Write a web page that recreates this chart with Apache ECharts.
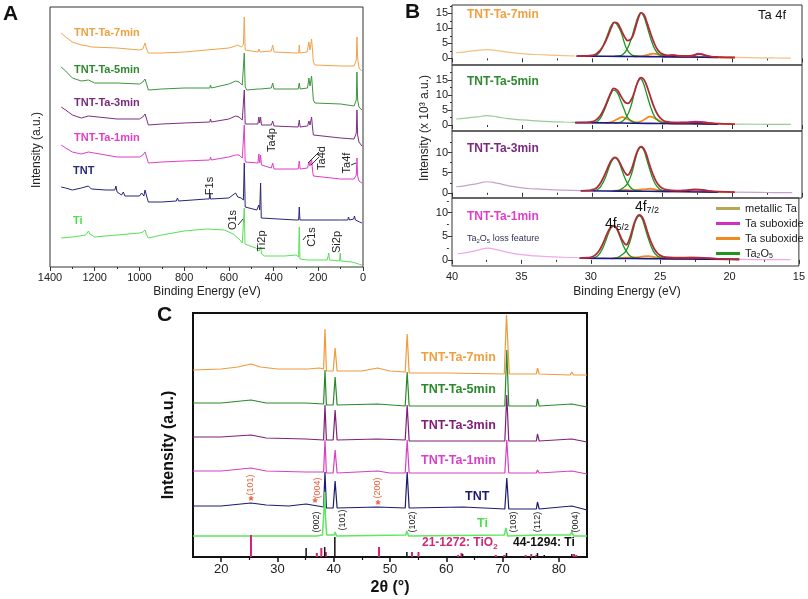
<!DOCTYPE html>
<html><head><meta charset="utf-8">
<script src="https://cdn.jsdelivr.net/npm/echarts@6/dist/echarts.min.js"></script>
<style>html,body{margin:0;padding:0;background:#fff}#c{width:808px;height:599px}</style>
</head><body><div id="c"></div><script>
// ---------- Panel A : XPS survey (Binding energy eV, intensity a.u.) ----------
const surveyTa7 = [[1350,234],[1330,230],[1300,225],[1260,222],[1230,221],[1225,223],[1215,220],[1100,219],[1000,217],[985,218],[975,224],[968,218],[960,214],[900,214],[800,215],[700,217],[600,219],[570,221],[560,222],[545,220],[535,222],[531,250],[527,217],[520,215],[470,215],[465,218],[460,215],[410,216],[404,222],[398,215],[300,214],[288,214],[285,222],[282,214],[250,215],[242,225],[237,217],[230,228],[226,217],[222,205],[215,202],[100,201],[40,201],[30,207],[27,230],[24,209],[18,199],[10,197],[5,196]];
const surveyTa5 = [[1350,200],[1330,196],[1300,189],[1260,186],[1228,187],[1222,185],[1200,184],[1100,184],[1000,183],[985,185],[975,188],[968,183],[960,177],[900,178],[800,179],[685,179],[682,182],[678,179],[600,183],[570,186],[555,185],[540,182],[531,214],[527,180],[520,177],[470,178],[465,179],[460,178],[410,179],[404,184],[398,178],[290,178],[285,184],[281,178],[248,179],[242,189],[237,181],[230,191],[226,179],[222,167],[215,164],[100,163],[40,161],[30,167],[27,195],[24,167],[18,160],[10,158],[5,157]];
const surveyTa3 = [[1350,160],[1330,157],[1300,152],[1260,149],[1228,151],[1222,149],[1100,148],[1000,148],[985,150],[975,153],[968,148],[960,142],[900,143],[800,144],[685,145],[682,148],[678,145],[600,148],[570,151],[555,150],[540,147],[531,177],[527,143],[520,142],[470,143],[466,150],[462,144],[458,150],[454,142],[410,142],[404,146],[398,141],[290,140],[285,147],[281,140],[248,141],[242,146],[237,142],[230,150],[226,140],[222,132],[215,130],[100,129],[40,128],[30,134],[27,157],[24,132],[18,125],[10,123],[5,121]];
const surveyTa1 = [[1350,122],[1330,119],[1300,115],[1260,113],[1228,115],[1222,113],[1100,110],[1000,110],[985,112],[975,115],[968,110],[960,104],[900,105],[800,106],[685,107],[682,110],[678,107],[600,110],[570,112],[555,112],[540,109],[531,142],[527,105],[520,104],[470,104],[466,113],[462,104],[458,112],[454,102],[410,99],[404,104],[398,98],[290,98],[285,106],[281,98],[248,99],[242,105],[237,101],[230,108],[226,97],[222,91],[215,89],[100,88],[40,88],[30,92],[27,109],[24,91],[18,86],[10,85],[5,84]];
const surveyTNT = [[1350,80],[1330,79],[1300,77],[1260,79],[1228,81],[1215,78],[1150,77],[1110,77],[1105,81],[1100,75],[1080,72],[1072,75],[1065,71],[1000,71],[990,74],[980,71],[975,77],[968,71],[960,65],[900,65],[835,66],[830,69],[825,66],[700,68],[688,68],[685,74],[682,68],[600,69],[570,74],[560,70],[545,69],[535,67],[531,104],[527,60],[520,59],[475,57],[466,62],[462,57],[458,84],[455,49],[450,47],[300,47],[288,47],[285,60],[282,47],[100,47],[68,47],[65,50],[60,47],[42,48],[38,51],[34,47],[15,45],[5,44]];
const surveyTi = [[1350,29],[1300,30],[1240,32],[1228,36],[1222,33],[1200,30],[1100,32],[1000,34],[985,35],[975,37],[968,32],[960,29],[900,32],[800,36],[700,38],[620,37],[580,33],[550,27],[540,24],[533,23],[531,59],[528,23],[520,23],[480,19],[465,16],[460,17],[457,20],[454,13],[440,11],[350,11],[300,12],[288,10],[285,40],[282,8],[250,7],[160,7],[153,14],[150,7],[105,6],[102,14],[99,6],[50,5],[20,3],[5,2]];

// ---------- Panel B : Ta 4f high resolution (x10^3 a.u.) ----------
const raw7 = [[39.7,1.9],[39,2.2],[38.3,2.6],[37.5,2.9],[36.8,2.6],[36,2.1],[35,1.6],[34,1.3],[33,1.1],[32,0.95],[31.2,0.8],[25,'-'],[19.8,0.35],[18,0.2],[17,0.15],[15.8,0.1]];
const bg7 = [[31.1,0.75],[29,0.7],[27,0.62],[25,0.55],[23,0.45],[21,0.35]];
const env7 = [[31.1,0.75],[30.5,0.8],[30,1.0],[29.7,1.5],[29.4,2.8],[29.1,5.0],[28.8,8.2],[28.6,10.5],[28.4,12.0],[28.2,11.8],[28.0,10.3],[27.8,8.3],[27.6,6.6],[27.45,5.9],[27.2,6.5],[27.0,8.6],[26.8,11.8],[26.6,14.6],[26.5,15.2],[26.3,14.6],[26.1,12.3],[25.9,9.5],[25.6,5.6],[25.3,2.8],[25.0,1.5],[24.6,1.0],[24.2,1.1],[23.7,0.8],[23,0.8],[22.6,1.2],[22.3,1.4],[21.9,1.0],[21.3,0.5],[20.5,0.35],[19.8,0.3]];
const g7a = [[30.0,0.7],[29.7,1.0],[29.4,2.4],[29.1,5.4],[28.8,9.0],[28.6,11.2],[28.4,12.0],[28.2,11.2],[27.9,8.4],[27.7,5.4],[27.5,3.0],[27.2,1.3],[26.9,0.8],[26.6,0.65]];
const g7b = [[28.4,0.65],[28.1,0.8],[27.8,1.3],[27.5,3.0],[27.2,6.5],[26.9,11.2],[26.7,14.0],[26.5,15.2],[26.3,14.0],[26.1,11.2],[25.8,6.5],[25.5,3.0],[25.2,1.3],[24.9,0.8],[24.6,0.6]];
const o7 = [[27,0.62],[26.5,0.75],[26.0,1.2],[25.6,1.6],[25.2,1.2],[24.7,0.7],[24.2,0.5],[22,0.4],[19.8,0.3]];
const m7 = [[25,0.55],[24.5,0.8],[24.2,1.1],[23.8,0.8],[23.3,0.6],[22.8,0.9],[22.4,1.6],[22.0,1.2],[21.6,0.6],[21.0,0.4]];

const raw5 = [[39.7,2.0],[39,2.3],[38.2,2.7],[37.5,3.1],[36.8,2.7],[36,2.1],[35,1.7],[34,1.4],[33,1.15],[32,1.0],[31.2,0.9],[25,'-'],[19.8,0.3],[18,0.25],[17,0.2],[15.8,0.2]];
const bg5 = [[31.2,0.8],[29,0.7],[27,0.6],[25,0.5],[23,0.4],[21,0.3]];
const env5 = [[31.2,0.8],[30.5,0.85],[30,1.1],[29.7,1.7],[29.4,3.2],[29.1,5.8],[28.8,9.2],[28.6,11.3],[28.45,12.2],[28.2,11.6],[28.0,10.2],[27.8,8.6],[27.6,7.4],[27.45,7.2],[27.2,8.4],[27.0,10.6],[26.8,13.5],[26.6,15.5],[26.5,15.8],[26.3,15.2],[26.1,13.2],[25.9,10.5],[25.6,6.4],[25.3,3.4],[25.0,1.8],[24.6,1.0],[24.0,0.8],[23.3,0.8],[22.6,1.0],[22.2,0.9],[21.5,0.6],[20.5,0.35],[19.8,0.3]];
const g5a = [[30.0,0.75],[29.7,1.0],[29.4,2.3],[29.1,5.2],[28.8,8.7],[28.6,10.8],[28.45,11.6],[28.2,10.8],[27.95,8.1],[27.7,5.2],[27.5,2.9],[27.2,1.3],[26.9,0.8],[26.6,0.65]];
const g5b = [[28.4,0.65],[28.1,0.8],[27.8,1.3],[27.5,3.0],[27.2,6.6],[26.95,11.2],[26.75,14.2],[26.55,15.5],[26.35,14.2],[26.15,11.2],[25.85,6.6],[25.55,3.0],[25.25,1.3],[24.95,0.8],[24.6,0.55]];
const o5 = [[29.0,0.7],[28.6,1.0],[28.2,1.9],[27.85,2.6],[27.5,2.0],[27.1,1.2],[26.8,0.9],[26.5,1.2],[26.2,2.0],[25.85,2.8],[25.5,2.2],[25.1,1.2],[24.7,0.7],[24.2,0.5],[22,0.4],[19.8,0.3]];
const m5 = [[25,0.5],[24.4,0.7],[23.8,0.8],[23.2,0.9],[22.6,1.1],[22.2,1.0],[21.7,0.7],[21.2,0.4]];

const raw3 = [[39.7,1.5],[39,1.8],[38.2,2.3],[37.5,2.75],[36.8,2.4],[36,1.8],[35,1.2],[34,0.95],[33,0.8],[32,0.65],[30.8,0.55],[25,'-'],[19.8,0.15],[18,0.1],[17,0.05],[15.7,0.05]];
const bg3 = [[30.8,0.5],[29,0.45],[27,0.4],[25,0.35],[23,0.25],[21,0.15]];
const env3 = [[30.8,0.5],[30.2,0.6],[29.9,0.85],[29.6,1.5],[29.3,3.0],[29.0,5.2],[28.7,7.6],[28.5,8.6],[28.35,8.85],[28.15,8.3],[27.95,7.0],[27.75,5.6],[27.55,4.6],[27.45,4.4],[27.25,5.3],[27.05,7.2],[26.85,9.5],[26.65,11.1],[26.5,11.5],[26.3,11.0],[26.1,9.4],[25.9,7.1],[25.6,4.2],[25.3,2.2],[25.0,1.2],[24.6,0.7],[24.0,0.55],[23.3,0.6],[22.7,0.85],[22.3,0.8],[21.7,0.5],[21.0,0.3],[19.8,0.15]];
const g3a = [[29.9,0.5],[29.6,0.8],[29.3,2.0],[29.0,4.2],[28.7,7.1],[28.5,8.4],[28.35,8.7],[28.15,8.1],[27.9,6.0],[27.65,3.7],[27.45,2.3],[27.15,1.0],[26.8,0.55],[26.5,0.45]];
const g3b = [[28.3,0.5],[28.0,0.75],[27.75,1.3],[27.45,2.4],[27.15,5.0],[26.9,8.4],[26.7,10.6],[26.5,11.3],[26.3,10.6],[26.1,8.4],[25.8,5.0],[25.5,2.3],[25.2,1.0],[24.9,0.55],[24.5,0.4]];
const o3 = [[28.5,0.45],[28.0,0.6],[27.6,0.7],[27.2,0.6],[26.8,0.7],[26.3,0.85],[25.85,1.0],[25.4,0.75],[25.0,0.5],[24.5,0.35],[22,0.25],[19.8,0.15]];
const m3 = [[25,0.35],[24.3,0.45],[23.6,0.5],[23.1,0.6],[22.7,0.75],[22.3,0.7],[21.8,0.45],[21.2,0.25]];

const raw1 = [[39.6,1.3],[39,1.55],[38.2,2.0],[37.4,2.5],[36.8,2.15],[36,1.6],[35,1.1],[34,0.85],[33,0.7],[32,0.55],[30.8,0.45],[25,'-'],[19.3,0.1],[18,0.07],[17,0.05],[15.6,0.05]];
const bg1 = [[30.8,0.35],[29,0.32],[27,0.28],[25,0.24],[23,0.18],[21,0.12],[19.3,0.1]];
const env1 = [[30.8,0.35],[30.2,0.45],[29.9,0.65],[29.6,1.2],[29.3,2.4],[29.0,4.3],[28.7,6.3],[28.5,7.1],[28.35,7.25],[28.15,6.8],[27.95,5.6],[27.75,4.3],[27.55,3.4],[27.45,3.2],[27.25,4.1],[27.05,5.9],[26.85,7.9],[26.65,9.2],[26.5,9.5],[26.3,9.1],[26.1,7.7],[25.9,5.8],[25.6,3.4],[25.3,1.8],[25.0,0.95],[24.6,0.55],[24.0,0.45],[23.0,0.45],[22.3,0.45],[21.5,0.35],[20.5,0.2],[19.3,0.1]];
const g1a = [[29.9,0.35],[29.6,0.6],[29.3,1.6],[29.0,3.4],[28.7,5.8],[28.5,6.9],[28.35,7.1],[28.15,6.6],[27.9,4.9],[27.65,3.0],[27.45,1.9],[27.15,0.8],[26.8,0.4],[26.5,0.3]];
const g1b = [[28.3,0.35],[28.0,0.6],[27.75,1.1],[27.45,1.95],[27.15,4.1],[26.9,6.9],[26.7,8.7],[26.5,9.3],[26.3,8.7],[26.1,6.9],[25.8,4.1],[25.5,1.9],[25.2,0.8],[24.9,0.4],[24.5,0.3]];
const o1 = [[28.5,0.3],[28.0,0.4],[27.5,0.45],[27.0,0.5],[26.5,0.6],[26.2,0.75],[25.85,0.8],[25.4,0.6],[25.0,0.4],[24.5,0.25],[22,0.15],[19.3,0.1]];
const m1 = [[25,0.25],[24.2,0.35],[23.5,0.4],[22.8,0.45],[22.2,0.42],[21.5,0.3],[20.8,0.15]];
const metallicTa = [];

// ---------- Panel C : XRD (2theta deg, intensity a.u.) ----------
const xrdTa7 = [[15,187],[20,188],[23,190],[25.3,193],[27,190],[30,188],[35,188],[35.2,190],[35.4,188],[37.5,189],[38.2,188],[38.45,228],[38.7,186],[39.9,186],[40.25,209],[40.6,186],[45,186],[47.8,189],[50,186],[52.7,185],[53.05,223],[53.4,184],[60,184],[70.3,183],[70.7,242],[70.95,212],[71.2,183],[76,183],[76.2,189],[76.5,183],[82,182],[82.3,185],[82.6,182],[85,182]];
const xrdTa5 = [[15,154],[20,154],[25.3,157],[28,154],[35,154],[38.2,153],[38.45,187],[38.7,152],[39.9,152],[40.25,180],[40.6,152],[47.8,153],[52.7,151],[53.05,185],[53.4,151],[70.4,151],[70.75,207],[71.1,151],[76,151],[76.2,158],[76.5,151],[82.3,153],[85,150]];
const xrdTa3 = [[15,120],[20,120],[25.3,122],[28,119],[35,118],[38.2,117],[38.45,152],[38.7,117],[39.9,117],[40.25,147],[40.6,117],[47.8,118],[52.7,117],[53.05,152],[53.4,116],[70.4,116],[70.75,162],[71.1,116],[76,116],[76.2,123],[76.5,116],[82.3,118],[85,115]];
const xrdTa1 = [[15,86],[20,86],[25.3,89],[28,86],[35,85],[38.2,85],[38.45,117],[38.7,84],[39.9,84],[40.25,107],[40.6,84],[47.8,86],[50,84],[52.7,84],[53.05,117],[53.4,84],[70.4,84],[70.75,117],[71.1,84],[76,84],[76.2,87],[76.5,84],[82.3,86],[85,83]];
const xrdTNT = [[15,51],[20,51],[25.3,54],[28,52],[32,51],[35.1,53],[35.3,51],[38.2,50],[38.45,85],[38.7,49],[39.9,49],[40.25,76],[40.6,49],[47.8,50],[52.7,49],[53.05,85],[53.4,49],[63,50],[70.4,48],[70.75,79],[71.1,48],[76,48],[76.2,55],[76.5,48],[82.3,51],[85,47]];
const xrdTi = [[15,21],[30,21],[37,21],[38.0,22],[38.25,45],[38.4,65],[38.55,40],[38.75,22],[40.1,22],[40.25,25],[40.5,21],[52.8,22],[53.0,26],[53.3,21],[70.3,22],[70.6,29],[70.9,21],[76.2,22],[82.1,22],[82.3,26],[82.6,21],[85,21]];
const tio2Pos = [25.3,37.0,37.8,38.6,48.05,53.9,55.06,62.1,62.7,68.8,70.3,74.1,75.1,76.0,82.7,83.1];
const tio2Int = [22,4,9,5,10,5,5,2,4,2,2,2,3,2,3,2];
const tiPos = [35.1,38.4,40.2,53.0,62.9,70.7,76.2,77.4,82.3];
const tiInt = [9,10,20,5,3,4,4,2,3];

const xpsTicks = [0,200,400,600,800,1000,1200,1400];
const xrdTicks = [20,30,40,50,60,70,80];
const xrdMinorTicks = [25,35,45,55,65,75];

const FONT = 'Liberation Sans, Arial, sans-serif';
const chart = echarts.init(document.getElementById('c'));

function ln(data, xi, yi, color, w, smooth, name) {
  return {type:'line', name:name, data:data, xAxisIndex:xi, yAxisIndex:yi, showSymbol:false, symbol:'none',
    smooth: smooth || false, lineStyle:{color:color, width:w}, itemStyle:{color:color}, silent:true, animation:false};
}
function sticks(pos, h) {
  const d = [];
  pos.forEach((p, i) => { d.push([p, 0]); d.push([p, h[i]]); d.push([p, '-']); });
  return d;
}
const plain = v => String(v);

const grids = [
  {left:50, top:7, width:313, height:260},
  {left:452, top:5, width:350, height:60},
  {left:452, top:65, width:350, height:66},
  {left:452, top:131, width:350, height:67},
  {left:452, top:198, width:350, height:68},
  {left:193, top:313, width:394, height:244}
].map((g, i) => Object.assign({show:true, borderColor: i === 5 ? '#111' : '#333', borderWidth: i === 5 ? 2 : 1, backgroundColor:'transparent'}, g));

const axisLbl = {color:'#222', fontFamily:FONT, fontSize:11, formatter:plain};
const xAxes = [
  {gridIndex:0, type:'value', position:'bottom', min:0, max:1400, interval:200, inverse:true, axisLine:{show:false},
   axisTick:{show:true, length:4, customValues:xpsTicks, lineStyle:{color:'#333'}}, minorTick:{show:true, splitNumber:2, length:2, lineStyle:{color:'#333'}},
   axisLabel:Object.assign({margin:5, customValues:xpsTicks}, axisLbl), splitLine:{show:false}}
];
for (let k = 1; k <= 4; k++) {
  xAxes.push({gridIndex:k, type:'value', position:'bottom', min:15, max:40, interval:5, inverse:true, axisLine:{show:false},
    axisTick:{show:true, length:4, lineStyle:{color:'#333'}}, minorTick:{show:true, splitNumber:2, length:2, lineStyle:{color:'#333'}},
    axisLabel:Object.assign({show:k === 4, margin:5}, axisLbl), splitLine:{show:false}});
}
xAxes.push({gridIndex:5, type:'value', position:'bottom', min:15, max:85, axisLine:{show:false},
  axisTick:{show:true, length:5, customValues:xrdTicks, lineStyle:{color:'#111', width:1.5}},
  axisLabel:{customValues:xrdTicks, color:'#222', fontFamily:FONT, fontSize:13, margin:6, formatter:plain}, splitLine:{show:false}});
// minor-tick axis: the second x axis of a grid sits on top, so it is moved down to the bottom edge
xAxes.push({gridIndex:5, type:'value', position:'top', offset:-244, min:15, max:85, axisLine:{show:false},
  axisTick:{show:true, inside:true, length:3, customValues:xrdMinorTicks, lineStyle:{color:'#111', width:1.2}},
  axisLabel:{show:false}, splitLine:{show:false}});

const bRanges = [[-2.2,17.8,[0,5,10,15],[2.5,7.5,12.5,17.5]],[-2,20,[0,5,10,15],[2.5,7.5,12.5,17.5]],[-1.3,15.4,[0,5,10],[2.5,7.5,12.5]],[-1.3,13.1,[0,5,10],[2.5,7.5,12.5]]];
const yAxes = [{gridIndex:0, type:'value', min:0, max:260, show:false}];
bRanges.forEach((r, i) => {
  yAxes.push({gridIndex:i+1, type:'value', position:'left', min:r[0], max:r[1], axisLine:{show:false},
    axisTick:{show:true, length:4, customValues:r[2], lineStyle:{color:'#333'}},
    axisLabel:Object.assign({customValues:r[2], margin:4}, axisLbl), splitLine:{show:false}});
});
bRanges.forEach((r, i) => {
  yAxes.push({gridIndex:i+1, type:'value', position:'right', offset:-350, min:r[0], max:r[1], axisLine:{show:false},
    axisTick:{show:true, inside:true, length:2, customValues:r[3], lineStyle:{color:'#333'}},
    axisLabel:{show:false}, splitLine:{show:false}});
});
yAxes.push({gridIndex:5, type:'value', min:0, max:244, show:false});

const series = [
  ln(surveyTa7,0,0,'#f2a24a',1), ln(surveyTa5,0,0,'#3c963c',1), ln(surveyTa3,0,0,'#7d2d82',1),
  ln(surveyTa1,0,0,'#e03cc8',1), ln(surveyTNT,0,0,'#262678',1), ln(surveyTi,0,0,'#58e058',1)
];
const bSets = [
  [raw7,bg7,env7,g7a,g7b,o7,m7,'#f5c080'],
  [raw5,bg5,env5,g5a,g5b,o5,m5,'#98cc98'],
  [raw3,bg3,env3,g3a,g3b,o3,m3,'#c8a0cc'],
  [raw1,bg1,env1,g1a,g1b,o1,m1,'#f0a8e8']
];
bSets.forEach((s, i) => {
  const k = i + 1;
  series.push(ln(s[0], k, k, s[7], 1.2, true));
  series.push(ln(s[5], k, k, '#f08a20', 1.8, true, 'Ta suboxide\u00a0'));
  series.push(ln(s[6], k, k, '#d030c0', 1.8, true, 'Ta suboxide'));
  series.push(ln(s[3], k, k, '#1e961e', 1.3, true, 'Ta2O5'));
  series.push(ln(s[4], k, k, '#1e961e', 1.3, true, 'Ta2O5'));
  series.push(ln(s[1], k, k, '#1a1a80', 1.6, true));
  series.push(ln(s[2], k, k, '#b02a3a', 1.8, true));
});
series.push(ln(metallicTa, 4, 4, '#b4a858', 1.5, false, 'metallic Ta'));
series.push(ln(xrdTa7,5,9,'#f09a3a',1.2), ln(xrdTa5,5,9,'#2a8a2a',1.2), ln(xrdTa3,5,9,'#80207a',1.2),
  ln(xrdTa1,5,9,'#d840c0',1.2), ln(xrdTNT,5,9,'#1c1c6e',1.2), ln(xrdTi,5,9,'#5ee85e',1.5));
series.push(ln(sticks(tio2Pos, tio2Int),5,9,'#d4236e',2));
series.push(ln(sticks(tiPos, tiInt),5,9,'#111',1.5));

function T(x, y, text, o) {
  o = o || {};
  return {type:'text', x:x, y:y, rotation:o.rot || 0, z:100, silent:true,
    style:{text:text, fill:o.c || '#222', fontFamily:FONT, fontSize:o.s || 11, fontWeight:o.b ? 'bold' : 'normal',
      align:o.a || 'left', verticalAlign:'middle', textAlign:o.a || 'left', textVerticalAlign:'middle', rich:o.rich}};
}
function L(x1, y1, x2, y2, c) {
  return {type:'line', z:100, silent:true, shape:{x1:x1, y1:y1, x2:x2, y2:y2}, style:{stroke:c || '#333', lineWidth:1}};
}
const R = Math.PI / 2;
const subRich = (fs, off) => ({sub:{fontSize:fs, padding:[off,0,0,0]}});
const graphic = [
  // Panel A
  T(3,14,'A',{s:21,b:true,c:'#111'}),
  T(74,33,'TNT-Ta-7min',{b:true,c:'#f0a040'}), T(74,70,'TNT-Ta-5min',{b:true,c:'#2f8a2f'}),
  T(74,103,'TNT-Ta-3min',{b:true,c:'#7a2a80'}), T(74,138,'TNT-Ta-1min',{b:true,c:'#e040c8'}),
  T(73,171,'TNT',{b:true,c:'#2a2a7a'}), T(73,221,'Ti',{b:true,c:'#50dd50'}),
  T(210,186,'F1s',{rot:R,a:'center'}), T(233,220,'O1s',{rot:R,a:'center'}), T(262,241,'Ti2p',{rot:R,a:'center'}),
  T(312,237,'C1s',{rot:R,a:'center'}), T(337,242,'Si2p',{rot:R,a:'center'}), T(272,140,'Ta4p',{rot:R,a:'center'}),
  T(322,158,'Ta4d',{rot:R,a:'center'}), T(347,163,'Ta4f',{rot:R,a:'center'}),
  L(238,225,243,219), L(303,240,306,236), L(308,163,319,152), L(311,165,319,157), L(351,165,356,163),
  T(207,292,'Binding Energy (eV)',{a:'center',s:12}),
  T(37,150,'Intensity (a.u.)',{rot:R,a:'center',s:12}),
  // Panel B
  T(405,12,'B',{s:21,b:true,c:'#111'}),
  T(467,15,'TNT-Ta-7min',{b:true,s:12,c:'#f0a040'}), T(758,15,'Ta 4f',{s:13,c:'#111'}),
  T(467,82,'TNT-Ta-5min',{b:true,s:12,c:'#2f8a2f'}), T(467,149,'TNT-Ta-3min',{b:true,s:12,c:'#7a2a80'}),
  T(467,217,'TNT-Ta-1min',{b:true,s:12,c:'#e040c8'}),
  T(467,239,'Ta{sub|2}O{sub|5} loss feature',{s:9,c:'#333355',rich:subRich(6,5)}),
  T(617,224,'4f{sub|5/2}',{s:14,a:'center',c:'#111',rich:subRich(9,8)}),
  T(647,207,'4f{sub|7/2}',{s:14,a:'center',c:'#111',rich:subRich(9,8)}),
  T(425,128,'Intensity (x 10\u00b3 a.u.)',{rot:R,a:'center',s:12}),
  T(627,292,'Binding Energy (eV)',{a:'center',s:12}),
  // Panel C
  T(157,315,'C',{s:21,b:true,c:'#111'}),
  T(421,358,'TNT-Ta-7min',{b:true,s:12.5,c:'#f0a040'}), T(421,390,'TNT-Ta-5min',{b:true,s:12.5,c:'#2a8a2a'}),
  T(421,426,'TNT-Ta-3min',{b:true,s:12.5,c:'#80207a'}), T(421,461,'TNT-Ta-1min',{b:true,s:12.5,c:'#d840c8'}),
  T(465,497,'TNT',{b:true,s:12.5,c:'#1c1c6e'}), T(477,524,'Ti',{b:true,s:12.5,c:'#50dd50'}),
  T(422,543,'21-1272: TiO{sub|2}',{b:true,s:12,c:'#cc2a7a',rich:{sub:{fontSize:8,fontWeight:'bold',padding:[7,0,0,0]}}}),
  T(513,543,'44-1294: Ti',{b:true,s:12,c:'#111'}),
  T(317,522,'(002)',{rot:R,a:'center',s:9}), T(343,520,'(101)',{rot:R,a:'center',s:9}),
  T(413,522,'(102)',{rot:R,a:'center',s:9}), T(514,522,'(103)',{rot:R,a:'center',s:9}),
  T(538,522,'(112)',{rot:R,a:'center',s:9}), T(576,522,'(004)',{rot:R,a:'center',s:9}),
  T(251,485,'(101)',{rot:R,a:'center',s:9,c:'#e8603a'}), T(318,488,'(004)',{rot:R,a:'center',s:9,c:'#e8603a'}),
  T(378,488,'(200)',{rot:R,a:'center',s:9,c:'#e8603a'}),
  T(251,501,'*',{a:'center',s:13,b:true,c:'#e8603a'}), T(315,503,'*',{a:'center',s:13,b:true,c:'#e8603a'}),
  T(378,505,'*',{a:'center',s:13,b:true,c:'#e8603a'}),
  T(169,445,'Intensity (a.u.)',{rot:R,a:'center',s:16,b:true,c:'#111'}),
  T(390,588,'2\u03b8 (\u00b0)',{a:'center',s:16,b:true,c:'#111'})
];

chart.setOption({
  animation:false,
  backgroundColor:'#fff',
  grid:grids, xAxis:xAxes, yAxis:yAxes, series:series, graphic:graphic,
  legend:{left:711, top:197, orient:'vertical', itemWidth:24, itemHeight:3, itemGap:2, icon:'rect',
    data:['metallic Ta','Ta suboxide','Ta suboxide\u00a0','Ta2O5'],
    textStyle:{fontFamily:FONT, fontSize:11, color:'#222', lineHeight:13,
      rich:{sub:{fontSize:7, padding:[5,0,0,0]}}},
    formatter:function(n){ return n === 'Ta2O5' ? 'Ta{sub|2}O{sub|5}' : n.trim(); },
    selectedMode:false}
});
</script></body></html>
